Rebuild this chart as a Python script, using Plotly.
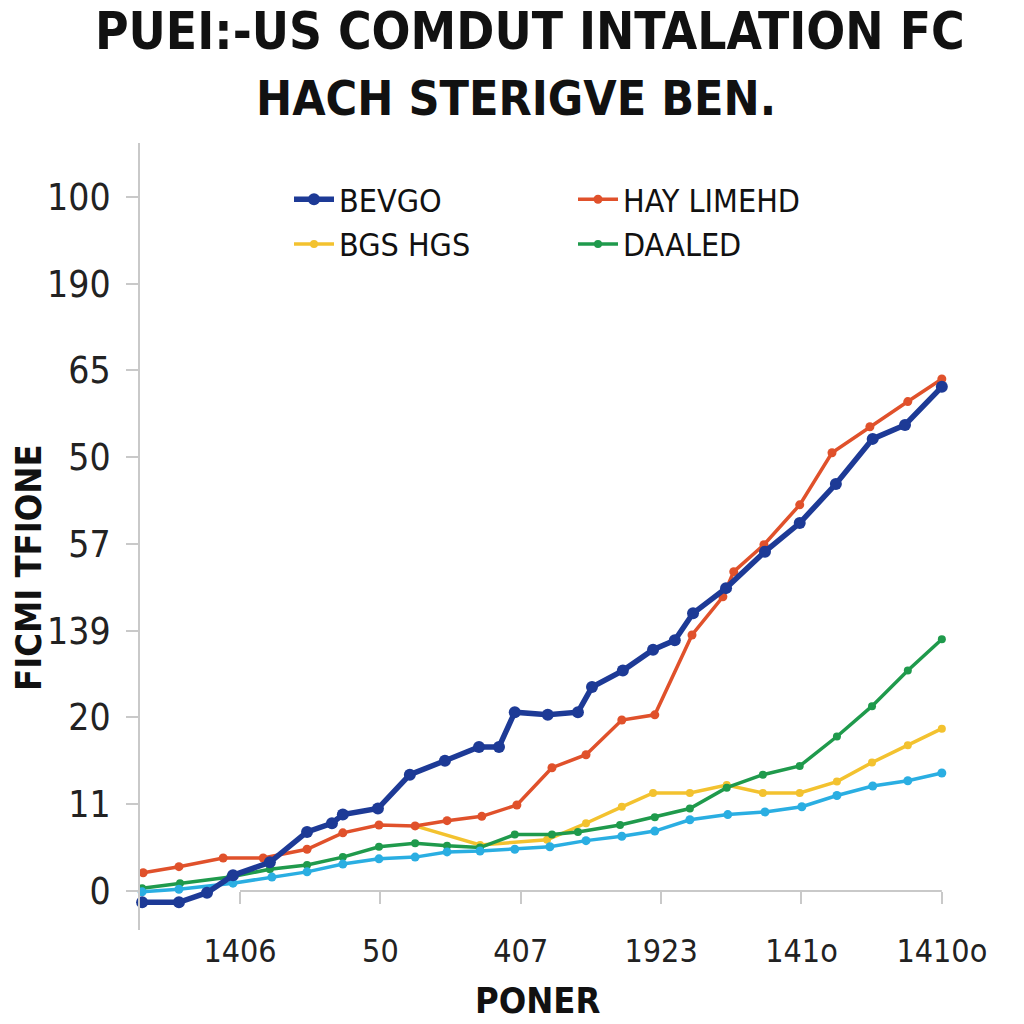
import plotly.graph_objects as go

# ---- data (tick-index units on y; x in quarter-tick steps) ----
x_ticks = [0, 4, 8, 12, 16, 20]
x_tick_labels = ["1406", "50", "407", "1923", "141o", "1410o"]
y_ticks = [0, 1, 2, 3, 4, 5, 6, 7, 8]
y_tick_labels = ["0", "11", "20", "139", "57", "50", "65", "190", "100"]

bevgo_x = [-2.79, -1.74, -0.94, -0.2, 0.85, 1.91, 2.62, 2.93, 3.93, 4.84, 5.84, 6.81, 7.38,
           7.83, 8.77, 9.63, 10.03, 10.91, 11.77, 12.39, 12.91, 13.85, 14.96, 15.95, 16.98,
           18.03, 18.95, 20.0]
bevgo_y = [-0.13, -0.13, -0.02, 0.18, 0.33, 0.68, 0.78, 0.88, 0.95, 1.34, 1.50, 1.66, 1.66,
           2.06, 2.03, 2.06, 2.35, 2.54, 2.78, 2.89, 3.20, 3.49, 3.91, 4.24, 4.69,
           5.21, 5.37, 5.81]

hay_x = [-2.76, -1.74, -0.48, 0.66, 1.91, 2.93, 3.96, 4.99, 5.9, 6.89, 7.89, 8.89, 9.86,
         10.88, 11.82, 12.88, 13.76, 14.07, 14.93, 15.95, 16.87, 17.95, 19.03, 20.0]
hay_y = [0.21, 0.28, 0.38, 0.38, 0.48, 0.67, 0.76, 0.75, 0.81, 0.86, 0.99, 1.42, 1.57,
         1.97, 2.03, 2.95, 3.39, 3.68, 3.99, 4.45, 5.05, 5.35, 5.64, 5.90]

bgs_x = [4.99, 6.84, 8.75, 9.86, 10.88, 11.77, 12.82, 13.87, 14.9, 15.95, 17.01, 18.01, 19.03, 20.0]
bgs_y = [0.75, 0.53, 0.59, 0.78, 0.97, 1.13, 1.13, 1.22, 1.13, 1.13, 1.26, 1.48, 1.68, 1.87]

daaled_x = [-2.79, -1.71, -0.28, 0.85, 1.91, 2.93, 3.96, 4.99, 5.9, 6.84, 7.83, 8.89, 9.63,
            10.83, 11.82, 12.82, 13.87, 14.9, 15.95, 17.01, 18.01, 19.03, 20.0]
daaled_y = [0.03, 0.09, 0.16, 0.25, 0.30, 0.39, 0.51, 0.55, 0.52, 0.50, 0.65, 0.65, 0.68,
            0.76, 0.85, 0.95, 1.19, 1.34, 1.44, 1.78, 2.13, 2.54, 2.90]

cyan_x = [-2.79, -1.74, -0.2, 0.91, 1.91, 2.93, 3.96, 4.99, 5.9, 6.84, 7.83, 8.83, 9.86,
          10.88, 11.82, 12.82, 13.9, 14.96, 16.01, 17.01, 18.03, 19.03, 20.0]
cyan_y = [-0.01, 0.02, 0.09, 0.16, 0.22, 0.31, 0.37, 0.39, 0.45, 0.46, 0.48, 0.51, 0.58,
          0.63, 0.69, 0.82, 0.88, 0.91, 0.97, 1.10, 1.21, 1.27, 1.36]

title_lines = ["PUEI:-US COMDUT INTALATION FC", "HACH STERIGVE BEN."]

NARROW = "DejaVu Sans Condensed, Liberation Sans Narrow, sans-serif"
BLUE = "#1d3a96"
ORANGE = "#e0512b"
YELLOW = "#f3c22f"
GREEN = "#1f9a4c"
CYAN = "#2aaee2"
AXIS = "#c9c9c9"

Y_RANGE = [-0.45, 8.62]
X_RANGE = [-2.85, 20.66]

fig = go.Figure()

fig.add_trace(go.Scatter(x=bgs_x, y=bgs_y, name="BGS HGS", mode="lines+markers",
                         line=dict(color=YELLOW, width=3.5), marker=dict(size=8, color=YELLOW),
                         legend="legend", legendrank=2, cliponaxis=False))
fig.add_trace(go.Scatter(x=daaled_x, y=daaled_y, name="DAALED", mode="lines+markers",
                         line=dict(color=GREEN, width=3.5), marker=dict(size=8, color=GREEN),
                         legend="legend2", legendrank=2, cliponaxis=False))
fig.add_trace(go.Scatter(x=cyan_x, y=cyan_y, name="cyan", mode="lines+markers", showlegend=False,
                         line=dict(color=CYAN, width=3.5), marker=dict(size=9, color=CYAN),
                         cliponaxis=False))
fig.add_trace(go.Scatter(x=hay_x, y=hay_y, name="HAY LIMEHD", mode="lines+markers",
                         line=dict(color=ORANGE, width=3.5), marker=dict(size=9, color=ORANGE),
                         legend="legend2", legendrank=1, cliponaxis=False))
fig.add_trace(go.Scatter(x=bevgo_x, y=bevgo_y, name="BEVGO", mode="lines+markers",
                         line=dict(color=BLUE, width=5.5), marker=dict(size=12, color=BLUE),
                         legend="legend", legendrank=1, cliponaxis=False))

# x-axis baseline spanning the tick range
fig.add_shape(type="line", xref="x", yref="y", x0=x_ticks[0], x1=x_ticks[-1], y0=0, y1=0,
              line=dict(color=AXIS, width=2), layer="below")

x_axis_pos = (0 - Y_RANGE[0]) / (Y_RANGE[1] - Y_RANGE[0])

legend_font = dict(family=NARROW, size=32, color="#111111")

fig.update_layout(
    width=1024, height=1024,
    margin=dict(l=140, r=59, t=143, b=94),
    paper_bgcolor="white", plot_bgcolor="white",
    xaxis=dict(range=X_RANGE, tickvals=x_ticks, ticktext=x_tick_labels,
               anchor="free", position=x_axis_pos, showline=False, showgrid=False, zeroline=False,
               ticks="outside", ticklen=12, tickwidth=2, tickcolor=AXIS, ticklabelstandoff=20,
               tickfont=dict(family=NARROW, size=32, color="#222222")),
    yaxis=dict(range=Y_RANGE, tickvals=y_ticks, ticktext=y_tick_labels,
               showline=True, linecolor=AXIS, linewidth=2, showgrid=False, zeroline=False,
               ticks="outside", ticklen=12, tickwidth=2, tickcolor=AXIS, ticklabelstandoff=8,
               tickfont=dict(family=NARROW, size=37, color="#222222")),
    legend=dict(x=(289 - 140) / 825, y=1 - (172 - 143) / 787, xanchor="left", yanchor="top",
                bgcolor="rgba(0,0,0,0)", font=legend_font, tracegroupgap=0, itemwidth=40),
    legend2=dict(x=(573 - 140) / 825, y=1 - (172 - 143) / 787, xanchor="left", yanchor="top",
                 bgcolor="rgba(0,0,0,0)", font=legend_font, tracegroupgap=0, itemwidth=40),
    showlegend=True,
)

# title, two lines
fig.add_annotation(text="<b>" + title_lines[0] + "</b>", xref="paper", yref="paper",
                   x=(530 - 140) / 825, y=1 + (143 - 31) / 787, showarrow=False,
                   xanchor="center", yanchor="middle",
                   font=dict(family=NARROW, size=51, color="#111111"))
fig.add_annotation(text="<b>" + title_lines[1] + "</b>", xref="paper", yref="paper",
                   x=(516 - 140) / 825, y=1 + (143 - 98) / 787, showarrow=False,
                   xanchor="center", yanchor="middle",
                   font=dict(family=NARROW, size=48, color="#111111"))

fig.add_annotation(text="<b>FICMI TFIONE</b>", xref="paper", yref="paper",
                   x=(28 - 140) / 825, y=1 - (567 - 143) / 787, showarrow=False, textangle=-90,
                   xanchor="center", yanchor="middle",
                   font=dict(family=NARROW, size=36, color="#111111"))
fig.add_annotation(text="<b>PONER</b>", xref="paper", yref="paper",
                   x=(537 - 140) / 825, y=1 - (1000 - 143) / 787, showarrow=False,
                   xanchor="center", yanchor="middle",
                   font=dict(family=NARROW, size=36, color="#111111"))

fig.write_html("out.html")
